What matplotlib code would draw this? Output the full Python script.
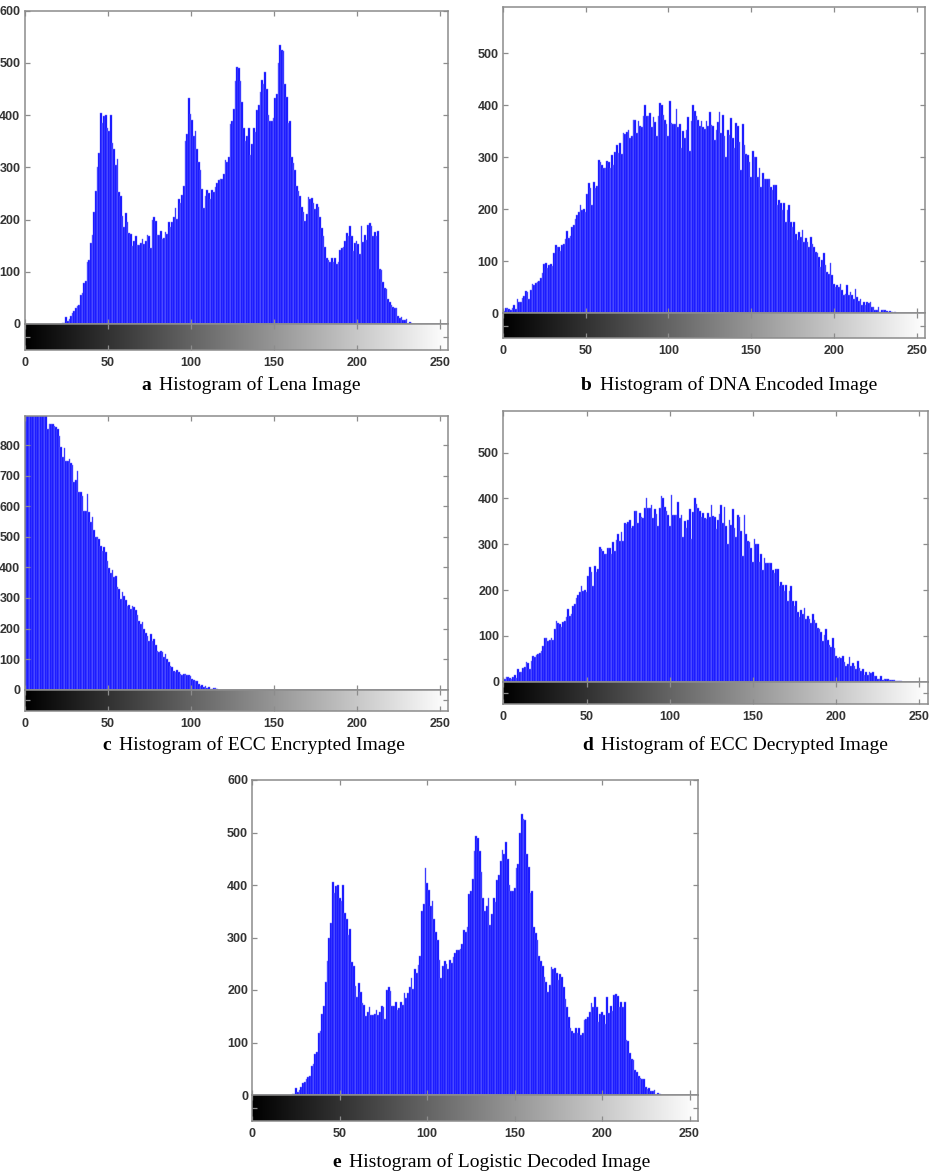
import numpy as np
import matplotlib.pyplot as plt
from matplotlib.offsetbox import TextArea, HPacker, AnnotationBbox

# grey-level histograms (counts per intensity 0..255)
lena_counts = [
    0, 0, 0, 0, 0, 0, 0, 0, 0, 0, 0, 0, 0, 0, 0, 0,
    0, 0, 0, 0, 0, 0, 0, 2, 2, 14, 6, 10, 16, 22, 25, 30,
    35, 36, 55, 60, 78, 82, 118, 122, 155, 170, 215, 255, 300, 328, 405, 385,
    398, 400, 375, 370, 400, 346, 335, 305, 316, 253, 246, 207, 186, 213, 196, 175,
    172, 150, 158, 168, 152, 152, 155, 162, 153, 158, 170, 168, 145, 200, 205, 198,
    170, 170, 178, 162, 165, 177, 172, 195, 185, 195, 205, 223, 202, 240, 232, 248,
    265, 350, 363, 432, 403, 390, 360, 370, 335, 310, 295, 258, 222, 245, 256, 250,
    240, 257, 252, 262, 270, 276, 277, 278, 287, 314, 310, 320, 383, 388, 412, 465,
    493, 490, 465, 425, 375, 350, 360, 375, 323, 345, 375, 368, 410, 420, 445, 467,
    460, 482, 450, 400, 388, 388, 395, 433, 440, 500, 535, 525, 523, 460, 435, 385,
    388, 320, 308, 295, 265, 255, 245, 225, 215, 197, 210, 243, 240, 242, 232, 220,
    230, 225, 205, 183, 168, 148, 127, 122, 118, 127, 118, 127, 115, 118, 142, 145,
    148, 158, 175, 168, 187, 168, 140, 155, 158, 153, 135, 187, 157, 170, 160, 190,
    193, 188, 168, 177, 168, 178, 105, 103, 80, 68, 67, 47, 43, 37, 33, 31,
    30, 15, 11, 13, 8, 8, 10, 0, 4, 2, 0, 0, 0, 0, 0, 0,
    0, 0, 0, 0, 0, 0, 0, 0, 0, 0, 0, 0, 0, 0, 0, 0,
]

dna_counts = [
    3, 5, 10, 10, 8, 6, 10, 15, 8, 27, 22, 22, 30, 33, 42, 41,
    27, 45, 57, 55, 58, 60, 62, 68, 78, 95, 96, 88, 92, 95, 90, 115,
    132, 128, 127, 120, 131, 133, 142, 158, 144, 148, 165, 170, 182, 189, 195, 208,
    198, 200, 195, 230, 250, 240, 208, 253, 240, 245, 295, 290, 285, 279, 279, 292,
    291, 279, 304, 285, 310, 323, 308, 327, 307, 346, 345, 349, 352, 336, 340, 372,
    372, 346, 369, 360, 358, 380, 400, 379, 379, 385, 358, 378, 367, 340, 380, 405,
    400, 381, 372, 363, 340, 407, 365, 363, 363, 393, 358, 363, 317, 351, 336, 352,
    378, 311, 370, 400, 389, 380, 372, 360, 369, 358, 355, 369, 360, 386, 362, 360,
    333, 352, 367, 386, 346, 381, 340, 301, 352, 343, 376, 336, 317, 365, 359, 330,
    275, 363, 323, 307, 305, 291, 262, 311, 301, 301, 262, 279, 243, 269, 259, 259,
    259, 259, 243, 237, 247, 247, 208, 218, 212, 198, 212, 176, 198, 208, 176, 166,
    176, 153, 141, 157, 147, 160, 137, 144, 137, 128, 147, 134, 128, 118, 115, 108,
    89, 102, 115, 92, 80, 76, 96, 73, 57, 51, 54, 51, 57, 44, 35, 38,
    54, 35, 41, 35, 28, 46, 31, 24, 28, 15, 22, 15, 22, 19, 22, 13,
    13, 6, 6, 12, 3, 6, 6, 6, 4, 3, 4, 3, 1, 2, 1, 1,
    0, 0, 0, 0, 0, 0, 0, 0, 0, 0, 0, 0, 0, 0, 0, 0,
]

ecc_counts = [
    700, 980, 1010, 960, 1030, 990, 1000, 970, 1020, 940, 990, 960, 930, 910, 852, 868,
    868, 868, 863, 858, 852, 830, 792, 760, 790, 749, 749, 754, 742, 735, 679, 685,
    716, 647, 647, 632, 585, 585, 640, 580, 547, 564, 521, 498, 498, 492, 470, 455,
    466, 449, 422, 399, 383, 390, 368, 373, 335, 330, 297, 319, 308, 292, 275, 277,
    264, 275, 270, 259, 243, 226, 215, 221, 199, 186, 177, 158, 183, 158, 167, 145,
    128, 123, 125, 123, 107, 118, 99, 90, 79, 74, 60, 58, 63, 58, 52, 49,
    50, 52, 49, 47, 45, 36, 32, 30, 28, 20, 11, 14, 9, 11, 5, 8,
    3, 3, 5, 5, 2, 0, 0, 0, 0, 0, 0, 0, 0, 0, 0, 0,
] + [0] * 128

x_ticks = [0, 50, 100, 150, 200, 250]

letters = ["a", "b", "c", "d", "e"]
captions = [
    "Histogram of Lena Image",
    "Histogram of DNA Encoded Image",
    "Histogram of ECC Encrypted Image",
    "Histogram of ECC Decrypted Image",
    "Histogram of Logistic Decoded Image",
]

plt.rcParams['font.family'] = ['Liberation Sans Narrow', 'Liberation Sans', 'DejaVu Sans']
plt.rcParams['font.weight'] = 'bold'

W, H = 930, 1174
fig = plt.figure(figsize=(W / 100, H / 100), dpi=100)
frame_col = '#8c8c8c'
label_col = '#333333'
bins = np.arange(256)
gradient = np.linspace(0, 1, 256)[None, :]


def rect(left, right, top, bottom):
    return [left / W, 1 - bottom / H, (right - left) / W, (bottom - top) / H]


def panel(box, counts, ytop, yticks, letter, caption, cap_xy):
    left, right, top, zero, cbot = box
    ax = fig.add_axes(rect(left, right, top, zero))
    ax.bar(bins, counts, width=1.0, color='#0000ff', edgecolor='#7a7aff',
           linewidth=0.35)
    ax.set_xlim(0, 255)
    ax.set_ylim(0, ytop)
    ax.set_xticks(x_ticks)
    ax.set_xticklabels([])
    ax.set_yticks(yticks)
    ax.tick_params(direction='in', top=True, right=True, length=3.5, width=0.9,
                   color=frame_col, labelsize=9, labelcolor=label_col, pad=3)
    for s in ax.spines.values():
        s.set_color(frame_col)
        s.set_linewidth(1.1)
        s.set_zorder(3)

    cax = fig.add_axes(rect(left, right, zero, cbot))
    cax.imshow(gradient, cmap='gray', aspect='auto', extent=[0, 255, 0, 1],
               interpolation='bilinear')
    cax.set_xlim(0, 255)
    cax.set_ylim(0, 1)
    cax.set_xticks(x_ticks)
    cax.set_yticks([0.5])
    cax.set_yticklabels([])
    cax.tick_params(direction='in', top=True, right=True, length=3.5, width=0.9,
                    color=frame_col, labelsize=9, labelcolor=label_col, pad=5)
    for s in cax.spines.values():
        s.set_color(frame_col)
        s.set_linewidth(1.1)

    t1 = TextArea(letter, textprops=dict(family='Liberation Serif', weight='bold',
                                         size=14, color='black'))
    t2 = TextArea(caption, textprops=dict(family='Liberation Serif', weight='normal',
                                          size=14, color='black'))
    pack = HPacker(children=[t1, t2], align='baseline', pad=0, sep=6)
    ab = AnnotationBbox(pack, (cap_xy[0] / W, 1 - cap_xy[1] / H),
                        xycoords='figure fraction', frameon=False,
                        box_alignment=(0.5, 0.5))
    fig.add_artist(ab)


panel((24.5, 448, 10.7, 324, 350), lena_counts, 600, range(0, 601, 100),
      letters[0], captions[0], (251, 385))
panel((502.7, 925, 7.3, 313.3, 338.3), dna_counts, 588, range(0, 501, 100),
      letters[1], captions[1], (729, 385))
panel((24.5, 448, 416, 689.7, 711), ecc_counts, 895, range(0, 801, 100),
      letters[2], captions[2], (253.5, 745))
panel((503.3, 927.7, 411, 681.7, 704), dna_counts, 591, range(0, 501, 100),
      letters[3], captions[3], (735, 745))
panel((252.3, 698.3, 780, 1095, 1120.7), lena_counts, 600, range(0, 601, 100),
      letters[4], captions[4], (491.5, 1162))

fig.savefig('out.png', dpi=100)
